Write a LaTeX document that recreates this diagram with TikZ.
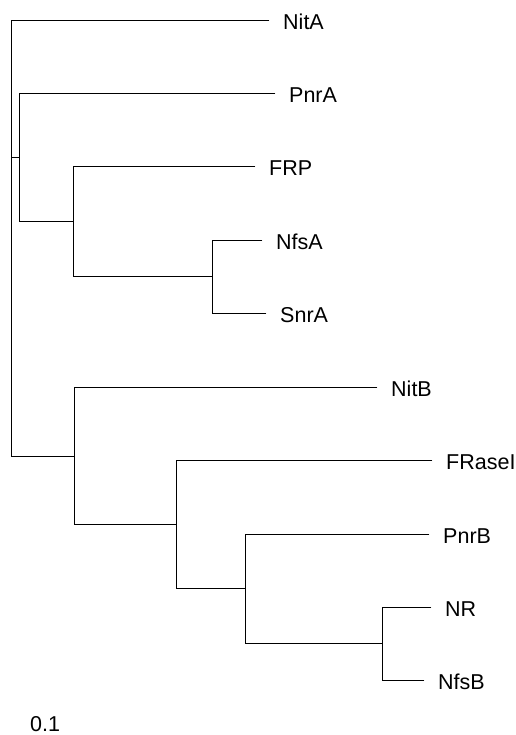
\documentclass[tikz,border=0pt]{standalone}
\usepackage{fontspec}
\setmainfont{Liberation Sans}

\begin{document}
\begin{tikzpicture}[x=1pt,y=-1pt,
  every node/.style={font=\fontsize{21.5}{25}\selectfont},
  leaf/.style={anchor=west,inner xsep=14pt,inner ysep=0pt,text height=19pt,text depth=0pt},
  branch/.style={line width=0.9pt,line cap=rect}]
\useasboundingbox (0,0) rectangle (515,735);

% Leaves
\node[leaf] (NitA) at (269,20) {NitA};
\node[leaf] (PnrA) at (275,93) {PnrA};
\node[leaf] (FRP) at (255,166) {FRP};
\node[leaf] (NfsA) at (262,240) {NfsA};
\node[leaf] (SnrA) at (266,313) {SnrA};
\node[leaf] (NitB) at (377,387) {NitB};
\node[leaf] (FRaseI) at (432,460) {FRaseI};
\node[leaf] (PnrB) at (429,534) {PnrB};
\node[leaf] (NR) at (431,607) {NR};
\node[leaf] (NfsB) at (424,680) {NfsB};

% Internal nodes
\coordinate (r0) at (11.5,238);
\coordinate (n1) at (19.5,157);
\coordinate (n2) at (73,221);
\coordinate (n3) at (212,276.5);
\coordinate (n4) at (74,456);
\coordinate (n5) at (176,524);
\coordinate (n6) at (245,588);
\coordinate (n7) at (382,643.5);

% Branches
\draw[branch] (r0) |- (NitA.west);
\draw[branch] (r0) |- (n1);
\draw[branch] (r0) |- (n4);
\draw[branch] (n1) |- (PnrA.west);
\draw[branch] (n1) |- (n2);
\draw[branch] (n2) |- (FRP.west);
\draw[branch] (n2) |- (n3);
\draw[branch] (n3) |- (NfsA.west);
\draw[branch] (n3) |- (SnrA.west);
\draw[branch] (n4) |- (NitB.west);
\draw[branch] (n4) |- (n5);
\draw[branch] (n5) |- (FRaseI.west);
\draw[branch] (n5) |- (n6);
\draw[branch] (n6) |- (PnrB.west);
\draw[branch] (n6) |- (n7);
\draw[branch] (n7) |- (NR.west);
\draw[branch] (n7) |- (NfsB.west);

% Scale
\node[anchor=base west,inner sep=0pt] (scale) at (30,731.5) {0.1};

\end{tikzpicture}
\end{document}
